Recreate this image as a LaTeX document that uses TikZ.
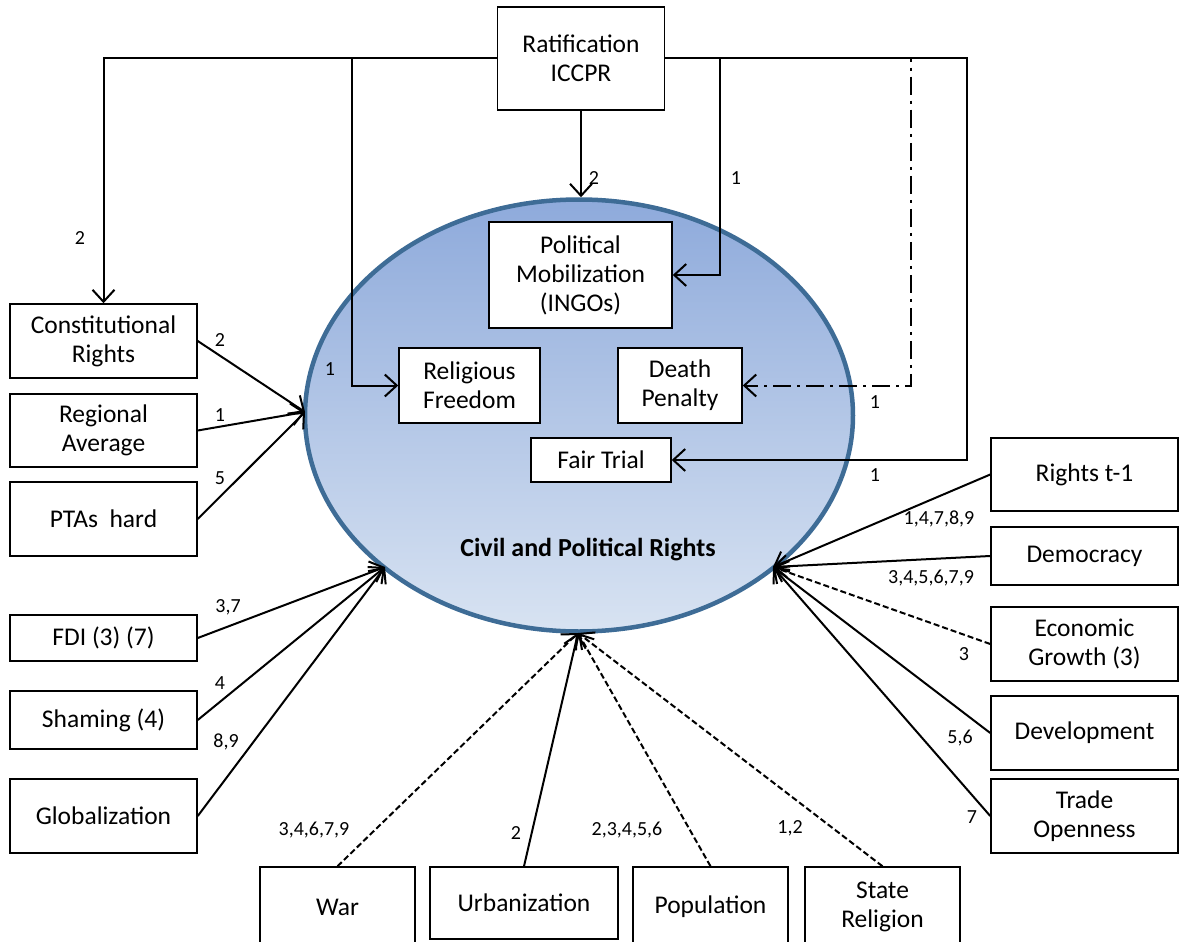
\documentclass[tikz,border=0pt]{standalone}
\usepackage{fontspec}
\setmainfont{Carlito}
\usetikzlibrary{arrows.meta,shapes.geometric}
\definecolor{ellborder}{RGB}{62,108,150}
\definecolor{elltop}{RGB}{142,170,219}
\definecolor{ellbot}{RGB}{216,227,242}
\tikzset{
  box/.style={draw=black, fill=white, line width=1.5pt, align=center, inner sep=0pt,
    font=\fontsize{25.5}{29}\selectfont},
  lbl/.style={font=\fontsize{20}{23}\selectfont, inner sep=0pt},
  arr/.style={line width=2pt, -{Straight Barb[length=12pt,width=22pt,line width=2pt]}},
  dsh/.style={dash pattern=on 6pt off 3pt},
  dashdot/.style={dash pattern=on 18pt off 6pt on 3pt off 6pt},
}
\begin{document}
\begin{tikzpicture}[x=1pt,y=-1pt]
\useasboundingbox (0,0) rectangle (1179,942);

% central ellipse
\node[ellipse, draw=ellborder, line width=4.5pt, top color=elltop, bottom color=ellbot,
  minimum width=548pt, minimum height=432pt, inner sep=0pt] (E) at (579,415.5) {};
\node[font=\fontsize{26}{30}\selectfont\bfseries] (cpr) at (588,550) {Civil and Political Rights};

% convergence points on the ellipse
\coordinate (L1) at (305,412);
\coordinate (L2) at (385,567);
\coordinate (R1) at (773,567);
\coordinate (B) at (578,633);

% top box
\node[box, minimum width=167pt, minimum height=103pt] (rat) at (581,58.5) {Ratification\\ICCPR};

% inner boxes
\node[box, minimum width=183pt, minimum height=106pt] (pm) at (580.5,275) {Political\\Mobilization\\(INGOs)};
\node[box, minimum width=141pt, minimum height=75pt] (rf) at (469.5,385.5) {Religious\\Freedom};
\node[box, minimum width=124pt, minimum height=75pt] (dp) at (680,385.5) {Death\\Penalty};
\node[box, minimum width=140pt, minimum height=44pt] (ft) at (601,460) {Fair Trial};

% left boxes
\node[box, minimum width=187pt, minimum height=74pt] (cr) at (103.5,341) {Constitutional\\Rights};
\node[box, minimum width=187pt, minimum height=73pt] (ra) at (103.5,430.5) {Regional\\Average};
\node[box, minimum width=187pt, minimum height=74pt] (pta) at (103.5,519) {PTAs\ \ hard};
\node[box, minimum width=187pt, minimum height=46pt] (fdi) at (103.5,638) {FDI (3) (7)};
\node[box, minimum width=187pt, minimum height=58pt] (sh) at (103.5,720) {Shaming (4)};
\node[box, minimum width=187pt, minimum height=74pt] (gl) at (103.5,816) {Globalization};

% right boxes
\node[box, minimum width=187pt, minimum height=73pt] (rt) at (1084.5,474.5) {Rights t-1};
\node[box, minimum width=187pt, minimum height=58pt] (dem) at (1084.5,556) {Democracy};
\node[box, minimum width=187pt, minimum height=74pt] (eg) at (1084.5,644) {Economic\\Growth (3)};
\node[box, minimum width=187pt, minimum height=74pt] (dev) at (1084.5,733) {Development};
\node[box, minimum width=187pt, minimum height=74pt] (to) at (1084.5,816) {Trade\\Openness};

% bottom boxes
\node[box, minimum width=155pt, minimum height=80pt] (war) at (337.5,907) {War};
\node[box, minimum width=188pt, minimum height=72pt] (urb) at (524,903) {Urbanization};
\node[box, minimum width=155pt, minimum height=80pt] (pop) at (710.5,907) {Population};
\node[box, minimum width=155pt, minimum height=80pt] (sr) at (882.5,907) {State\\Religion};

% Ratification connectors
\coordinate (j1) at (352,58.5);
\coordinate (j2) at (720,58.5);
\coordinate (dd) at (911,58.5);
\coordinate (rc) at (967,58.5);
\draw[arr] (rat.west) -| (cr.north);
\draw[arr] (j1) |- (rf.west);
\draw[arr] (rat.east) -- (rc) |- (ft.east);
\draw[arr] (j2) |- (pm.east);
\draw[arr, dashdot] (rat.east) -- (dd) |- (dp.east);
\draw[arr] (rat.south) -- (rat.south |- E.north);

% left connectors
\draw[arr] (cr.east) -- (L1);
\draw[arr] (ra.east) -- (L1);
\draw[arr] (pta.east) -- (L1);
\draw[arr] (fdi.east) -- (L2);
\draw[arr] (sh.east) -- (L2);
\draw[arr] (gl.east) -- (L2);

% right connectors
\draw[arr] (rt.west) -- (R1);
\draw[arr] (dem.west) -- (R1);
\draw[arr, dsh] (eg.west) -- (R1);
\draw[arr] (dev.west) -- (R1);
\draw[arr] (to.west) -- (R1);

% bottom connectors
\draw[arr, dsh] (war.north) -- (B);
\draw[arr] (urb.north) -- (B);
\draw[arr, dsh] (pop.north) -- (B);
\draw[arr, dsh] (sr.north) -- (B);

% labels
\node[lbl] (t1) at (594,178) {2};
\node[lbl] (t2) at (736,178) {1};
\node[lbl] (t3) at (80,238) {2};
\node[lbl] (t4) at (330,369) {1};
\node[lbl] (t5) at (875,402) {1};
\node[lbl] (t6) at (875,475) {1};
\node[lbl] (t7) at (220,340) {2};
\node[lbl] (t8) at (220,415) {1};
\node[lbl] (t9) at (220,478) {5};
\node[lbl] (t10) at (228,607) {3,7};
\node[lbl] (t11) at (220,683) {4};
\node[lbl] (t12) at (226,742) {8,9};
\node[lbl] (t13) at (939,519) {1,4,7,8,9};
\node[lbl] (t14) at (931,578) {3,4,5,6,7,9};
\node[lbl] (t15) at (964,654) {3};
\node[lbl] (t16) at (960,738) {5,6};
\node[lbl] (t17) at (972,817) {7};
\node[lbl] (t18) at (314,830) {3,4,6,7,9};
\node[lbl] (t19) at (516,833) {2};
\node[lbl] (t20) at (627,830) {2,3,4,5,6};
\node[lbl] (t21) at (790,828) {1,2};
\end{tikzpicture}
\end{document}
